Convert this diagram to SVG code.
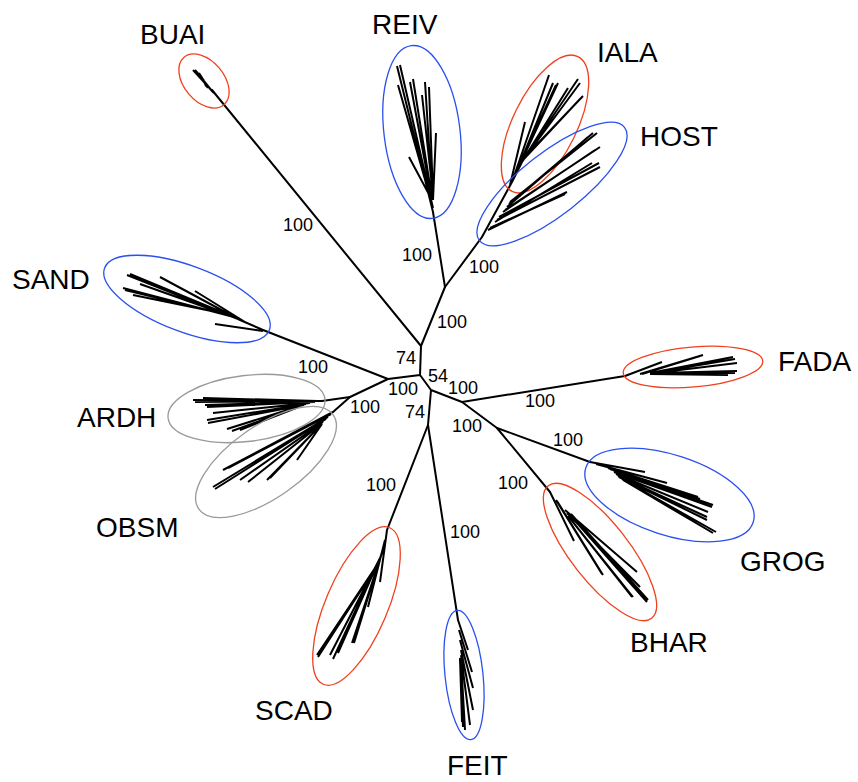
<svg xmlns="http://www.w3.org/2000/svg" width="858" height="782" viewBox="0 0 858 782">
<style>
.br{stroke:#000;stroke-width:2;fill:none;stroke-linecap:round}
.lf{stroke:#000;stroke-width:2;fill:none;stroke-linecap:butt}
.red{fill:none;stroke:#f0401e;stroke-width:1.3}
.blue{fill:none;stroke:#2a50f0;stroke-width:1.3}
.gray{fill:none;stroke:#9a9a9a;stroke-width:1.3}
.lab{font-family:"Liberation Sans",Arial,sans-serif;font-size:28px;fill:#000}
.bs{font-family:"Liberation Sans",Arial,sans-serif;font-size:18px;fill:#000}
</style>
<rect width="858" height="782" fill="#fff"/>
<g id="connectors">
<path class="br" d="M420,375 L421,346 M421,346 L445,287 M420,375 L388,379 M420,375 L431,390 M431,390 L428,425 M431,390 L462,402 M462,402 L497,428 M388,379 L350,397"/>
<path class="br" d="M421,346 L212,90"/>
<path class="br" d="M445,287 L433,212"/>
<path class="br" d="M445,287 L482,237"/>
<path class="br" d="M388,379 L263,330"/>
<path class="br" d="M350,397 L322,401"/>
<path class="br" d="M350,397 L333,412"/>
<path class="br" d="M462,402 L625,376"/>
<path class="br" d="M497,428 L590,462"/>
<path class="br" d="M497,428 L550,492"/>
<path class="br" d="M428,425 L387,530"/>
<path class="br" d="M428,425 L458,620"/>
</g>
<g id="bootstrap">
<text class="bs" x="283" y="231">100</text>
<text class="bs" x="402" y="261">100</text>
<text class="bs" x="469" y="273">100</text>
<text class="bs" x="437" y="328">100</text>
<text class="bs" x="396" y="364">74</text>
<text class="bs" x="428" y="382">54</text>
<text class="bs" x="448" y="394">100</text>
<text class="bs" x="388" y="395">100</text>
<text class="bs" x="405" y="418">74</text>
<text class="bs" x="452" y="432">100</text>
<text class="bs" x="298" y="373">100</text>
<text class="bs" x="350" y="413">100</text>
<text class="bs" x="525" y="407">100</text>
<text class="bs" x="553" y="446">100</text>
<text class="bs" x="498" y="489">100</text>
<text class="bs" x="366" y="491">100</text>
<text class="bs" x="450" y="538">100</text>
</g>
<g id="BUAI">
<path class="lf" d="M214,93 L193,70 M212,91 L195,70 M210,89 L197,72 M208,88 L199,73 M207,87 L201,76 M206,86 L203,79"/>
<ellipse class="red" cx="204" cy="81" rx="31" ry="20" transform="rotate(50 204 81)"/>
<text class="lab" x="140" y="44">BUAI</text>
</g>
<g id="REIV">
<path class="lf" d="M433,212 L397,66 M433,208 L400,65 M432,204 L398,85 M432,200 L410,82 M432,198 L413,79 M432,192 L425,82 M433,196 L429,87 M432,186 L422,95 M433,200 L436,133 M432,200 L409,157"/>
<ellipse class="blue" cx="422" cy="132" rx="38" ry="87" transform="rotate(-7 422 132)"/>
<text class="lab" x="372" y="34">REIV</text>
</g>
<g id="IALA">
<path class="lf" d="M482,237 L512,182 M512,182 L549,75 M514,178 L553,83 M515,175 L558,83 M516,172 L556,85 M518,168 L568,88 M520,165 L578,79 M521,163 L580,83 M524,158 L583,96 M523,160 L580,99 M510,185 L525,122 M512,182 L524,158"/>
<ellipse class="red" cx="545" cy="124" rx="75" ry="32" transform="rotate(-64 545 124)"/>
<text class="lab" x="597" y="62">IALA</text>
</g>
<g id="HOST">
<path class="lf" d="M490,228 L565,194 M488,230 L567,192 M495,222 L592,163 M497,220 L600,167 M499,217 L599,163 M503,212 L595,150 M505,210 L600,147 M507,207 L588,137 M509,204 L593,133 M510,202 L597,133"/>
<ellipse class="blue" cx="552" cy="184" rx="92" ry="31" transform="rotate(-38 552 184)"/>
<text class="lab" x="640" y="146">HOST</text>
</g>
<g id="SAND">
<path class="lf" d="M263,330 L240,320 M263,331 L215,324 M245,322 L195,291 M240,320 L160,277 M238,319 L127,275 M236,318 L130,274 M233,317 L140,284 M230,316 L123,288 M228,315 L125,290 M226,314 L133,295"/>
<ellipse class="blue" cx="187" cy="299" rx="88" ry="33" transform="rotate(20.6 187 299)"/>
<text class="lab" x="12" y="289">SAND</text>
</g>
<g id="ARDH">
<path class="lf" d="M322,401 L193,400 M320,401 L195,402 M318,401 L203,398 M315,402 L205,405 M312,402 L207,407 M310,403 L213,413 M306,404 L207,420 M304,405 L208,423 M300,406 L227,429 M298,407 L232,431 M296,408 L240,430"/>
<ellipse class="gray" cx="246.5" cy="408.5" rx="79" ry="33" transform="rotate(-7 246.5 408.5)"/>
<text class="lab" x="77" y="427">ARDH</text>
</g>
<g id="OBSM">
<path class="lf" d="M333,412 L223,470 M331,414 L228,468 M328,417 L213,487 M326,419 L215,489 M323,422 L240,480 M320,425 L248,482 M318,428 L267,480 M316,430 L270,478 M322,424 L297,460"/>
<ellipse class="gray" cx="266" cy="462" rx="82" ry="36" transform="rotate(-35 266 462)"/>
<text class="lab" x="96" y="537">OBSM</text>
</g>
<g id="FADA">
<path class="lf" d="M625,376 L662,362 M640,374 L703,355 M642,374 L700,356 M650,373 L733,357 M652,373 L735,359 M655,373 L737,363 M655,373 L737,371 M652,374 L735,373 M650,374 L728,375"/>
<ellipse class="red" cx="693" cy="367" rx="70" ry="20" transform="rotate(-5 693 367)"/>
<text class="lab" x="778" y="371">FADA</text>
</g>
<g id="GROG">
<path class="lf" d="M590,462 L645,472 M596,464 L667,483 M608,468 L698,497 M610,469 L700,499 M614,471 L713,505 M614,472 L712,507 M616,474 L708,512 M618,476 L707,517 M619,477 L707,520 M622,479 L716,532 M623,480 L713,533"/>
<ellipse class="blue" cx="669.5" cy="495" rx="88" ry="40" transform="rotate(18 669.5 495)"/>
<text class="lab" x="740" y="571">GROG</text>
</g>
<g id="BHAR">
<path class="lf" d="M550,492 L574,541 M556,500 L602,574 M557,501 L603,575 M565,510 L637,572 M567,513 L640,587 M568,516 L632,597 M569,517 L633,597 M570,515 L647,602 M571,514 L648,600"/>
<ellipse class="red" cx="600" cy="552" rx="84" ry="29" transform="rotate(52 600 552)"/>
<text class="lab" x="630" y="652">BHAR</text>
</g>
<g id="SCAD">
<path class="lf" d="M387,530 L380,582 M385,540 L368,607 M383,550 L352,643 M382,552 L354,643 M380,558 L338,653 M379,560 L333,659 M378,562 L330,655 M377,565 L317,655 M376,567 L318,657"/>
<ellipse class="red" cx="356.5" cy="606" rx="85" ry="31" transform="rotate(-67 356.5 606)"/>
<text class="lab" x="255" y="720">SCAD</text>
</g>
<g id="FEIT">
<path class="lf" d="M458,620 L468,650 M459,630 L472,672 M460,640 L473,688 M461,650 L473,710 M461,655 L470,725 M461,660 L465,730 M460,660 L463,727 M460,658 L462,722"/>
<ellipse class="blue" cx="464" cy="675" rx="19" ry="65" transform="rotate(-6 464 675)"/>
<text class="lab" x="447" y="775">FEIT</text>
</g>
</svg>
